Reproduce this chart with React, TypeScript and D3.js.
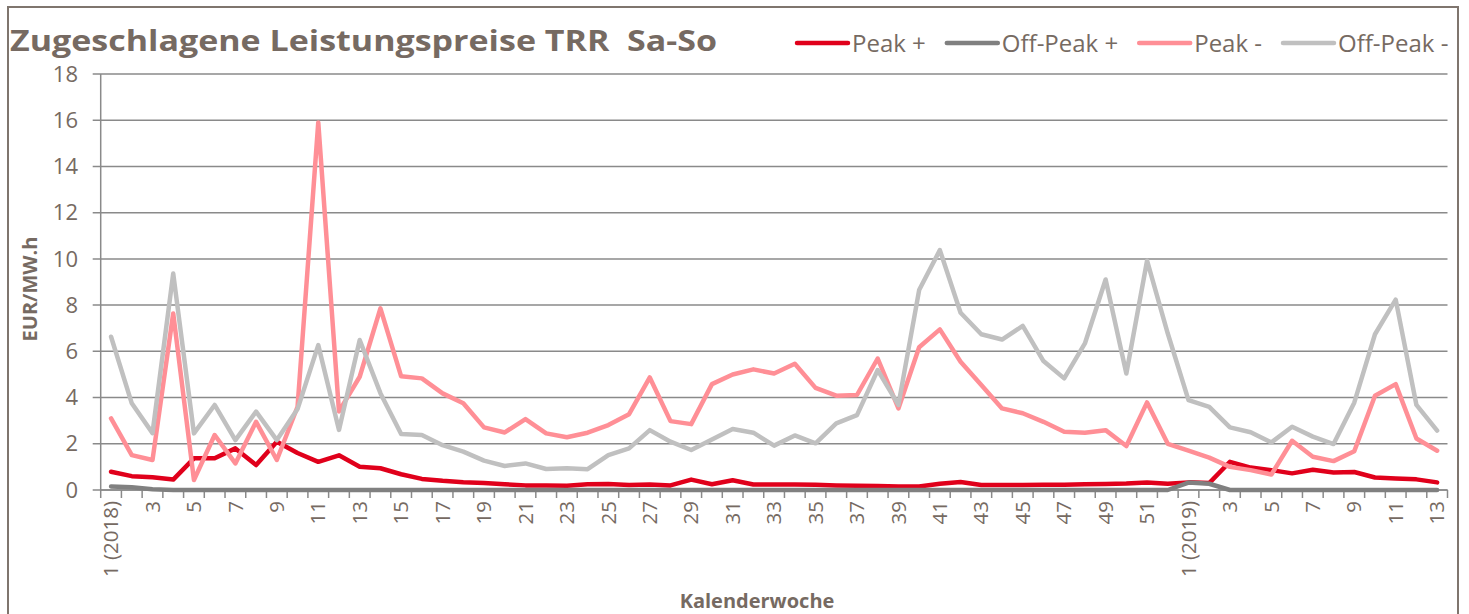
import React, { useEffect, useRef } from 'react';
import * as d3 from 'd3';

// Kalenderwochen: 2018 KW1-52, 2019 KW1-13
const weeks2018 = d3.range(1, 53);
const weeks2019 = d3.range(1, 14);
const categories: string[] = [
  ...weeks2018.map(w => (w === 1 ? '1 (2018)' : String(w))),
  ...weeks2019.map(w => (w === 1 ? '1 (2019)' : String(w))),
];

const peakPlus = [
  0.79, 0.6, 0.55, 0.45, 1.37, 1.37, 1.8, 1.08, 2.09, 1.6,
  1.22, 1.5, 1.01, 0.94, 0.68, 0.48, 0.4, 0.34, 0.3, 0.25,
  0.2, 0.2, 0.18, 0.25, 0.26, 0.22, 0.24, 0.2, 0.45, 0.25,
  0.42, 0.24, 0.24, 0.24, 0.23, 0.2, 0.18, 0.17, 0.15, 0.15,
  0.27, 0.35, 0.22, 0.22, 0.22, 0.23, 0.23, 0.25, 0.26, 0.28,
  0.32, 0.27, 0.33, 0.3, 1.22, 0.97, 0.86, 0.72, 0.88, 0.76,
  0.78, 0.54, 0.5, 0.46, 0.33,
];

const offPeakPlus = [
  0.15, 0.12, 0.03, 0, 0, 0, 0, 0, 0, 0,
  0, 0, 0, 0, 0, 0, 0, 0, 0, 0,
  0, 0, 0, 0, 0, 0, 0, 0, 0, 0,
  0, 0, 0, 0, 0, 0, 0, 0, 0, 0,
  0, 0, 0, 0, 0, 0, 0, 0, 0, 0,
  0, 0, 0.32, 0.27, 0, 0, 0, 0, 0, 0,
  0, 0, 0, 0, 0,
];

const peakMinus = [
  3.1, 1.51, 1.3, 7.64, 0.43, 2.38, 1.15, 2.95, 1.3, 3.6,
  15.9, 3.4, 4.9, 7.86, 4.92, 4.83, 4.18, 3.75, 2.71, 2.49,
  3.07, 2.45, 2.28, 2.48, 2.81, 3.28, 4.87, 2.98, 2.85, 4.58,
  5.0, 5.22, 5.04, 5.46, 4.42, 4.08, 4.11, 5.69, 3.53, 6.18,
  6.95, 5.55, 4.54, 3.53, 3.32, 2.95, 2.52, 2.48, 2.59, 1.9,
  3.79, 2.0, 1.7, 1.4, 1.0, 0.86, 0.67, 2.13, 1.44, 1.25,
  1.68, 4.08, 4.58, 2.23, 1.7,
];

const offPeakMinus = [
  6.63, 3.75, 2.46, 9.37, 2.45, 3.68, 2.16, 3.39, 2.16, 3.5,
  6.27, 2.6, 6.49, 4.19, 2.42, 2.38, 1.94, 1.66, 1.27, 1.04,
  1.15, 0.91, 0.94, 0.9, 1.51, 1.8, 2.59, 2.09, 1.73, 2.19,
  2.64, 2.48, 1.92, 2.36, 2.02, 2.88, 3.24, 5.19, 3.68, 8.65,
  10.38, 7.67, 6.74, 6.51, 7.1, 5.58, 4.83, 6.34, 9.11, 5.04,
  9.92, 6.77, 3.89, 3.6, 2.71, 2.5, 2.06, 2.74, 2.31, 1.99,
  3.78, 6.74, 8.24, 3.68, 2.57,
];

const seriesNames = ['Peak +', 'Off-Peak +', 'Peak -', 'Off-Peak -'];
const seriesColors = ['#e0001b', '#808080', '#ff8f96', '#c0c0c0'];
const seriesValues = [peakPlus, offPeakPlus, peakMinus, offPeakMinus];

const yTicks = [0, 2, 4, 6, 8, 10, 12, 14, 16, 18];

const W = 1469;
const H = 614;
const textColor = '#766a62';
const font = '"Open Sans", "Noto Sans", sans-serif';

export default function App() {
  const ref = useRef<SVGSVGElement>(null);

  useEffect(() => {
    const svg = d3.select(ref.current);
    svg.selectAll('*').remove();

    const left = 100.7;
    const right = 1447.5;
    const top = 74;
    const bottom = 490;

    // Index-Domain, da Wochennummern in beiden Jahren vorkommen
    const x = d3.scaleBand<number>().domain(d3.range(categories.length)).range([left, right]);
    const y = d3.scaleLinear().domain([0, 18]).range([bottom, top]);
    const cx = (i: number) => (x(i) as number) + x.bandwidth() / 2;

    // Rahmen
    svg.append('rect')
      .attr('x', 8).attr('y', 7)
      .attr('width', 1450).attr('height', 700)
      .attr('fill', '#fff')
      .attr('stroke', '#7f756e')
      .attr('stroke-width', 2);

    // Titel
    svg.append('text')
      .attr('x', 10).attr('y', 51)
      .attr('font-family', font)
      .attr('font-weight', 700)
      .attr('font-size', 29)
      .attr('fill', textColor)
      .attr('textLength', 707)
      .attr('lengthAdjust', 'spacingAndGlyphs')
      .style('white-space', 'pre')
      .text('Zugeschlagene Leistungspreise TRR  Sa-So');

    // Gitterlinien + y-Achse
    const gy = svg.append('g');
    gy.selectAll('line')
      .data(yTicks)
      .join('line')
      .attr('x1', left - 8).attr('x2', right)
      .attr('y1', d => y(d)).attr('y2', d => y(d))
      .attr('stroke', '#8a8a8a')
      .attr('stroke-width', 1.5);
    gy.selectAll('text')
      .data(yTicks)
      .join('text')
      .attr('x', 78)
      .attr('y', d => y(d))
      .attr('dy', '0.35em')
      .attr('text-anchor', 'end')
      .attr('font-family', font)
      .attr('font-size', 22)
      .attr('fill', textColor)
      .text(d => d);
    svg.append('line')
      .attr('x1', left).attr('x2', left)
      .attr('y1', top).attr('y2', bottom)
      .attr('stroke', '#8a8a8a')
      .attr('stroke-width', 1.5);

    // x-Achse
    const step = x.step();
    svg.append('g')
      .selectAll('line')
      .data(d3.range(categories.length + 1))
      .join('line')
      .attr('x1', i => left + i * step).attr('x2', i => left + i * step)
      .attr('y1', bottom).attr('y2', bottom + 8)
      .attr('stroke', '#8a8a8a')
      .attr('stroke-width', 1.5);
    svg.append('line')
      .attr('x1', left).attr('x2', right)
      .attr('y1', bottom).attr('y2', bottom)
      .attr('stroke', '#8a8a8a')
      .attr('stroke-width', 1.5);

    svg.append('g')
      .selectAll('text')
      .data(d3.range(0, categories.length, 2))
      .join('text')
      .attr('transform', i => `translate(${cx(i)},501) rotate(-90)`)
      .attr('dy', '0.35em')
      .attr('text-anchor', 'end')
      .attr('font-family', font)
      .attr('font-size', 20.5)
      .attr('fill', textColor)
      .text(i => categories[i]);

    // Achsentitel
    svg.append('text')
      .attr('x', 757).attr('y', 608)
      .attr('text-anchor', 'middle')
      .attr('font-family', font)
      .attr('font-weight', 700)
      .attr('font-size', 20)
      .attr('fill', textColor)
      .text('Kalenderwoche');
    svg.append('text')
      .attr('transform', 'translate(37,289) rotate(-90)')
      .attr('text-anchor', 'middle')
      .attr('font-family', font)
      .attr('font-weight', 700)
      .attr('font-size', 20)
      .attr('fill', textColor)
      .text('EUR/MW.h');

    // Linien
    const line = d3.line<number>()
      .x((_, i) => cx(i))
      .y(d => y(d));
    seriesValues.forEach((vals, s) => {
      svg.append('path')
        .datum(vals)
        .attr('d', line)
        .attr('fill', 'none')
        .attr('stroke', seriesColors[s])
        .attr('stroke-width', 4.5)
        .attr('stroke-linejoin', 'round')
        .attr('stroke-linecap', 'round');
    });

    // Legende
    let lx = 797;
    seriesNames.forEach((name, s) => {
      const g = svg.append('g');
      g.append('line')
        .attr('x1', lx).attr('x2', lx + 51)
        .attr('y1', 43).attr('y2', 43)
        .attr('stroke', seriesColors[s])
        .attr('stroke-width', 4.5)
        .attr('stroke-linecap', 'round');
      const t = g.append('text')
        .attr('x', lx + 55).attr('y', 52)
        .attr('font-family', font)
        .attr('font-size', 24)
        .attr('fill', textColor)
        .text(name);
      const tw = (t.node() as SVGTextElement).getComputedTextLength();
      lx += 55 + tw + 21;
    });
  }, []);

  return (
    <svg
      ref={ref}
      width={W}
      height={H}
      style={{ display: 'block', position: 'absolute', left: 0, top: 0 }}
    />
  );
}
